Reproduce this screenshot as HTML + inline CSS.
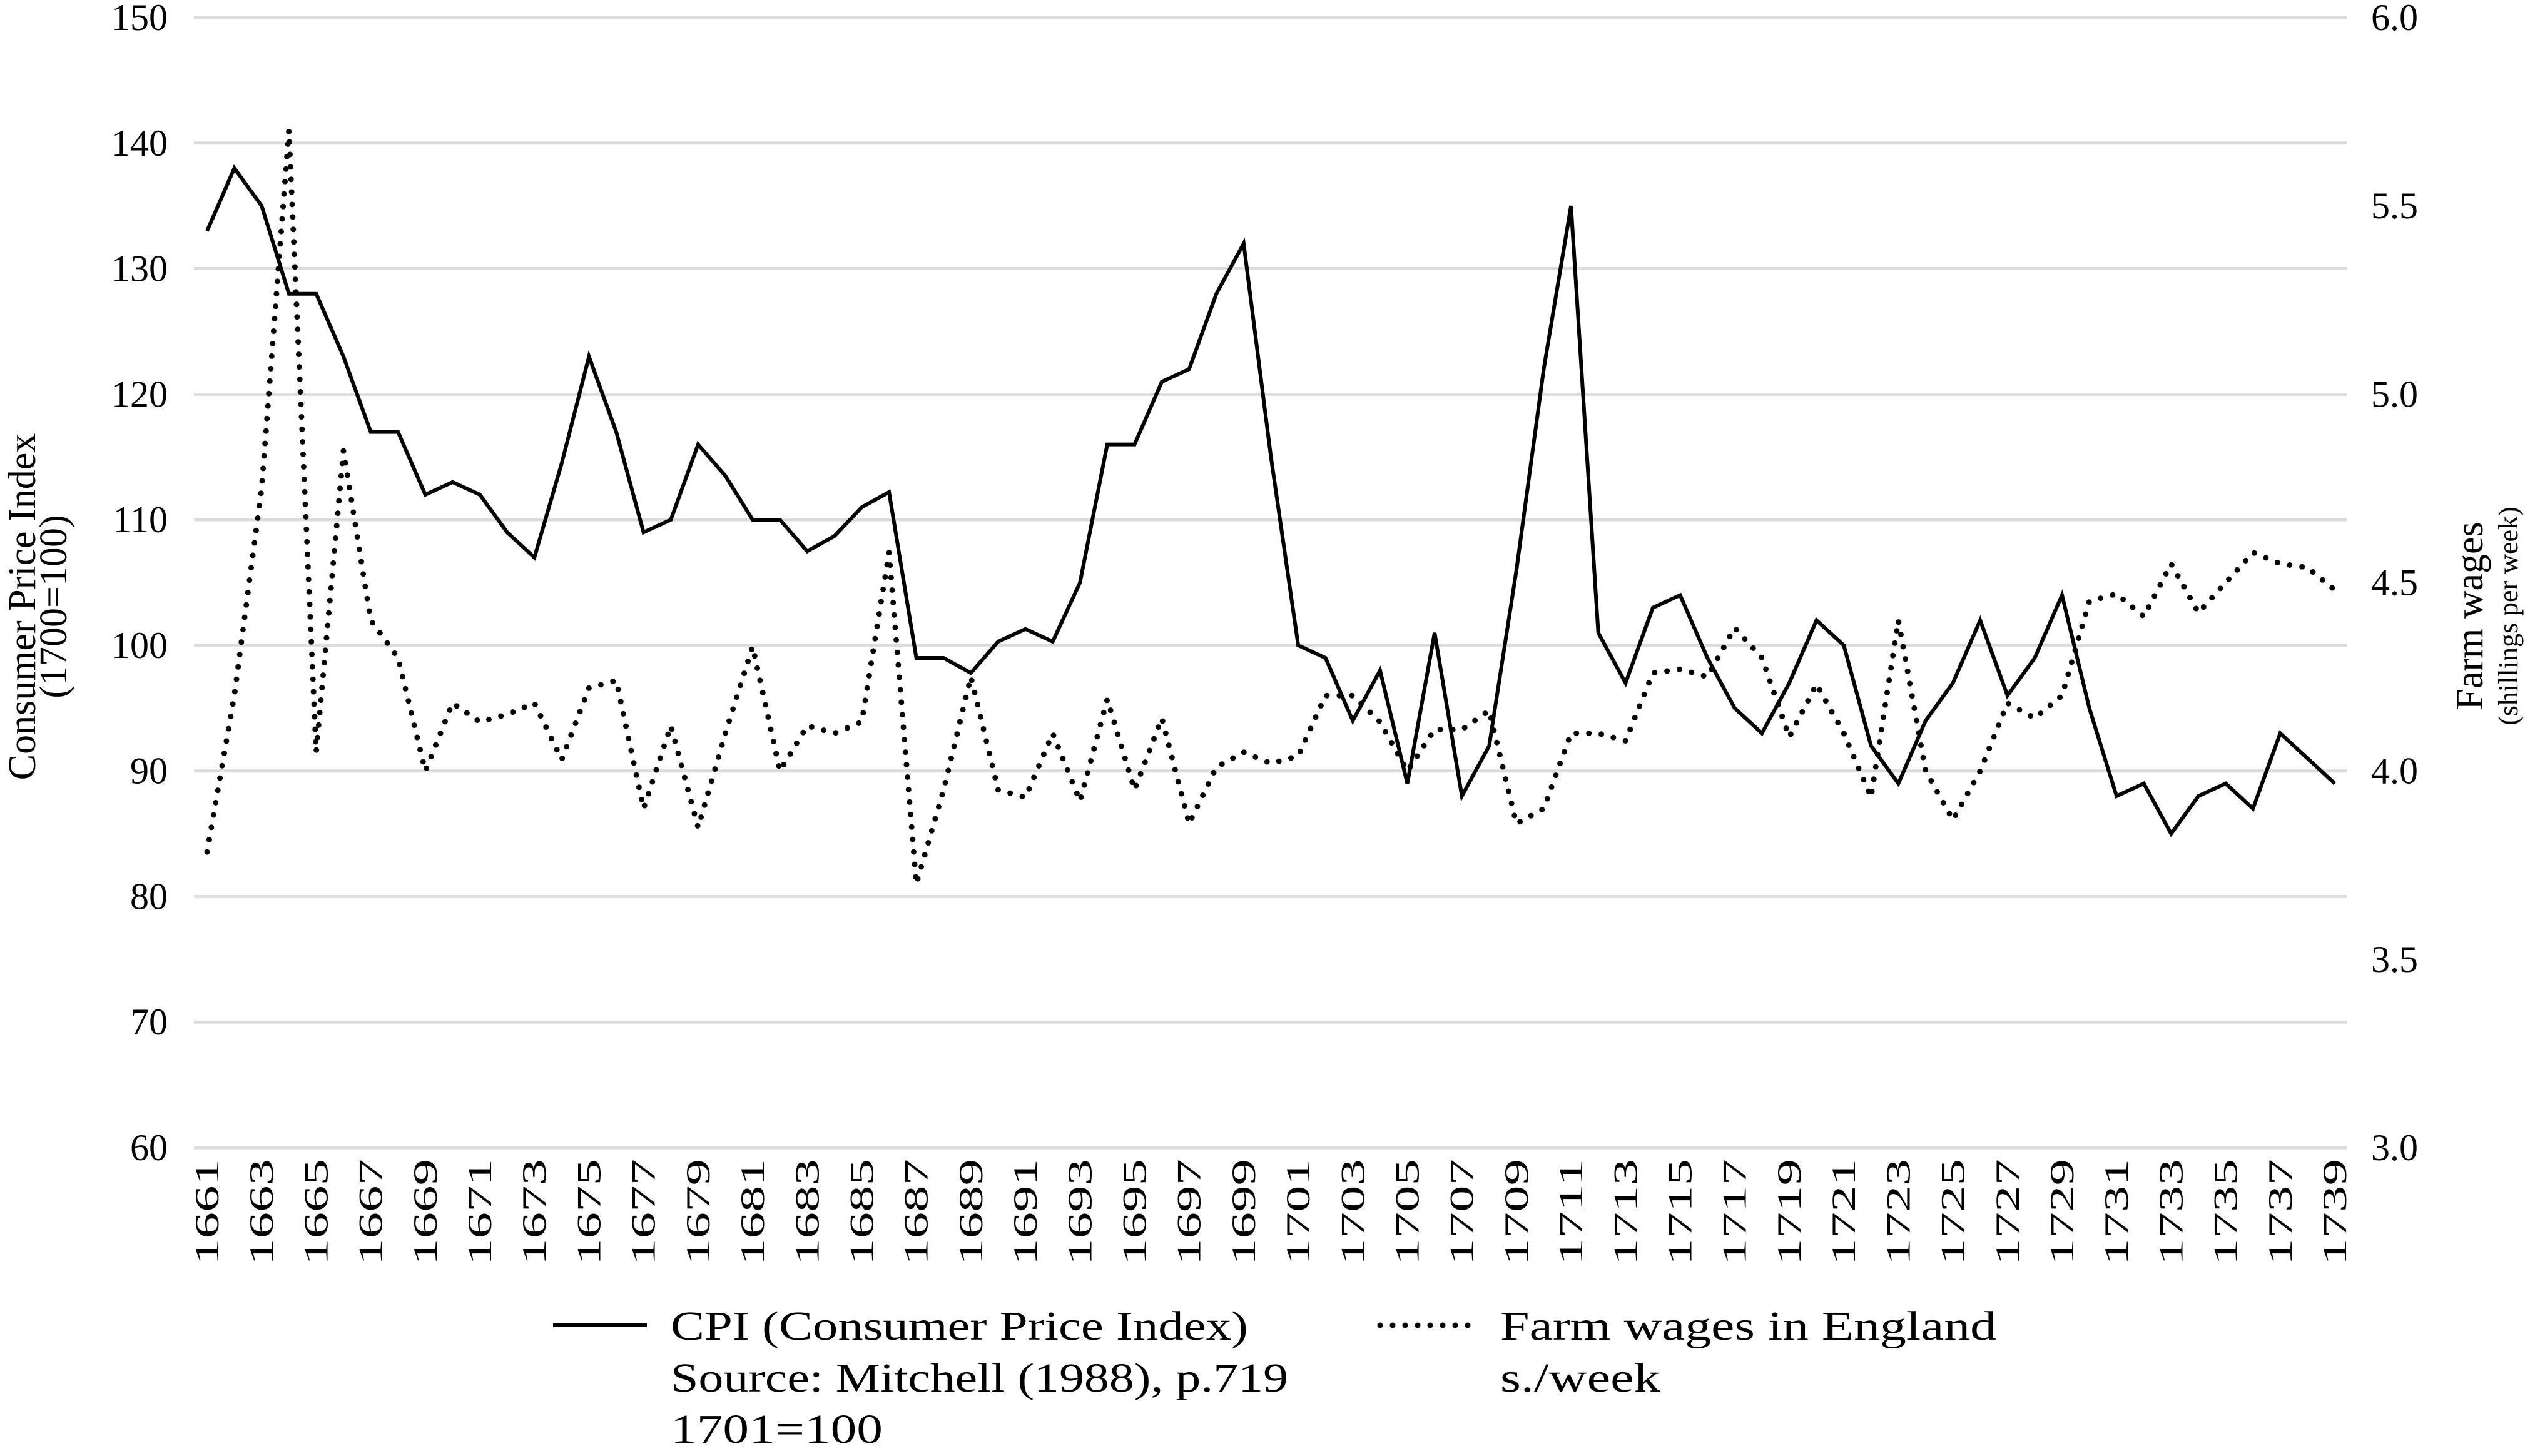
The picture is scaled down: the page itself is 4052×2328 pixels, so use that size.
<!DOCTYPE html>
<html><head><meta charset="utf-8"><style>
html,body{margin:0;padding:0;background:#fff;}
svg{display:block;font-family:"Liberation Serif","Noto Serif CJK SC",serif;}
</style></head><body>
<svg id="chart" width="4052" height="2328" viewBox="0 0 4052 2328" xmlns="http://www.w3.org/2000/svg">
<g id="grid"></g>
<g id="yl"></g>
<g id="yr"></g>
<g id="xl"></g>
<g id="series"></g>
<text transform="translate(56,970) rotate(-90)" text-anchor="middle" font-size="62">Consumer Price Index</text>
<text transform="translate(106,970) rotate(-90)" text-anchor="middle" font-size="62">(1700=100)</text>
<text transform="translate(3968,985) rotate(-90)" text-anchor="middle" font-size="62">Farm wages</text>
<text transform="translate(4024,985) rotate(-90)" text-anchor="middle" font-size="44">(shillings per week)</text>
<g>
<line x1="884" y1="2119" x2="1034" y2="2119" stroke="#000" stroke-width="6"/>
<text x="1072" y="2142" font-size="66" textLength="923" lengthAdjust="spacingAndGlyphs">CPI (Consumer Price Index)</text>
<text x="1072" y="2225" font-size="66" textLength="987" lengthAdjust="spacingAndGlyphs">Source: Mitchell (1988), p.719</text>
<text x="1072" y="2307" font-size="66" textLength="339" lengthAdjust="spacingAndGlyphs">1701=100</text>
<line x1="2206" y1="2119" x2="2357" y2="2119" stroke="#000" stroke-width="9" stroke-linecap="round" stroke-dasharray="0 20"/>
<text x="2398" y="2142" font-size="66" textLength="793" lengthAdjust="spacingAndGlyphs">Farm wages in England</text>
<text x="2398" y="2225" font-size="66" textLength="256" lengthAdjust="spacingAndGlyphs">s./week</text>
</g>
</svg>
<script>
const years = [];
for (let y = 1661; y <= 1739; y++) years.push(y);
const cpi = [133,138,135,128,128,123,117,117,112,113,112,109,107,114.5,123,117,109,110,116,113.5,110,110,107.5,108.7,111,112.2,99,99,97.8,100.3,101.3,100.3,105,116,116,121,122,128,132,115,100,99,94,98,89,101,88,92,106,122,135,101,97,103,104,99,95,93,97,102,100,92,89,94,97,102,96,99,104,95,88,89,85,88,89,87,93,91,89];
const wages = [3.785,4.2,4.75,5.7,4.05,4.85,4.4,4.3,4.0,4.18,4.13,4.15,4.18,4.03,4.22,4.24,3.9,4.12,3.85,4.1,4.33,4.0,4.12,4.1,4.13,4.58,3.7,3.95,4.25,3.95,3.93,4.1,3.92,4.19,3.95,4.14,3.86,4.01,4.05,4.02,4.04,4.2,4.2,4.13,4.0,4.11,4.11,4.16,3.86,3.9,4.1,4.1,4.08,4.26,4.27,4.25,4.38,4.3,4.09,4.23,4.1,3.93,4.4,4.0,3.87,4.0,4.18,4.14,4.2,4.45,4.47,4.41,4.55,4.42,4.5,4.58,4.55,4.54,4.48];
const leftTicks = [60,70,80,90,100,110,120,130,140,150];
const rightTicks = ["3.0","3.5","4.0","4.5","5.0","5.5","6.0"];

const NS = "http://www.w3.org/2000/svg";
const X0 = 331, X1 = 3732, YT = 28, YB = 1835;
const xs = y => X0 + (y - 1661) * (X1 - X0) / 78;
const yL = v => YB - (v - 60) * (YB - YT) / 90;
const yR = v => YB - (v - 3) * (YB - YT) / 3;
function mk(tag, attrs, parent){const e=document.createElementNS(NS,tag);for(const k in attrs)e.setAttribute(k,attrs[k]);parent.appendChild(e);return e;}

const grid=document.getElementById('grid'), yl=document.getElementById('yl'), yr=document.getElementById('yr'), xl=document.getElementById('xl'), ser=document.getElementById('series');
leftTicks.forEach(t=>{
  const l=mk('line',{x1:310,x2:3752,y1:yL(t),y2:yL(t),stroke:'#d9dedc','stroke-width':5},grid);
  
  
  const tx=mk('text',{x:268,y:yL(t)+20,'text-anchor':'end','font-size':60},yl);
  tx.textContent=t;
  
  
});
rightTicks.forEach(t=>{
  const tx=mk('text',{x:3790,y:yR(parseFloat(t))+20,'text-anchor':'start','font-size':60},yr);
  tx.textContent=t;
  
  
});
years.forEach((y,i)=>{
  if(i%2) return;
  const tx=mk('text',{transform:`translate(${xs(y)+18},1853) rotate(-90)`,'text-anchor':'end','font-size':54,textLength:170,lengthAdjust:'spacingAndGlyphs'},xl);
  tx.textContent=y;
  
  
});
const wp=mk('polyline',{points:wages.map((v,i)=>xs(years[i])+','+yR(v)).join(' '),fill:'none',stroke:'#000','stroke-width':9,'stroke-linecap':'round','stroke-linejoin':'round','stroke-dasharray':'0 20'},ser);


const cp=mk('polyline',{points:cpi.map((v,i)=>xs(years[i])+','+yL(v)).join(' '),fill:'none',stroke:'#000','stroke-width':6,'stroke-linejoin':'miter'},ser);


</script>
</body></html>
